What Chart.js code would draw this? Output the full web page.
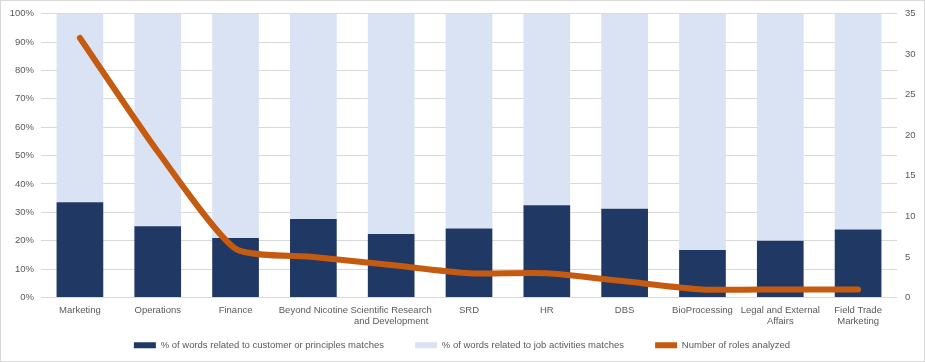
<!DOCTYPE html>
<html>
<head>
<meta charset="utf-8">
<script src="https://cdn.jsdelivr.net/npm/chart.js@4"></script>
<style>
  html, body { margin: 0; padding: 0; background: #fff; }
  #wrap { width: 925px; height: 362px; position: relative; }
</style>
</head>
<body>
<div id="wrap"><canvas id="rolesChart"></canvas></div>
<script>
const categories = [
  'Marketing', 'Operations', 'Finance', 'Beyond Nicotine',
  ['Scientific Research', 'and Development'], 'SRD', 'HR', 'DBS',
  'BioProcessing', ['Legal and External', 'Affairs'], ['Field Trade', 'Marketing']
];
const customerPct = [33.6, 25.1, 21.0, 27.7, 22.4, 24.3, 32.5, 31.3, 16.7, 20.0, 24.0];
const activityPct = [66.4, 74.9, 79.0, 72.3, 77.6, 75.7, 67.5, 68.7, 83.3, 80.0, 76.0];
const rolesAnalyzed = [32, 18, 6, 5, 4, 3, 3, 2, 1, 1, 1];

const pctTicks = [0, 10, 20, 30, 40, 50, 60, 70, 80, 90, 100];
const roleTicks = [0, 5, 10, 15, 20, 25, 30, 35];

const tickFont = { family: 'Liberation Sans', size: 9.5 };
const tickColor = '#595959';

// light grey frame around the whole chart
const frame = {
  id: 'frame',
  afterDraw(chart) {
    const c = chart.ctx;
    c.save();
    c.strokeStyle = '#D9D9D9';
    c.lineWidth = 1;
    c.strokeRect(0.5, 0.5, chart.width - 1, chart.height - 1);
    c.restore();
  }
};

const ctx = document.getElementById('rolesChart').getContext('2d');

new Chart(ctx, {
  type: 'bar',
  data: {
    labels: categories,
    datasets: [
      {
        label: '% of words related to customer or principles matches',
        data: customerPct,
        backgroundColor: '#203864',
        yAxisID: 'y',
        order: 1,
        barPercentage: 0.6,
        categoryPercentage: 1
      },
      {
        label: '% of words related to job activities matches',
        data: activityPct,
        backgroundColor: '#DAE3F3',
        yAxisID: 'y',
        order: 2,
        barPercentage: 0.6,
        categoryPercentage: 1
      },
      {
        type: 'line',
        label: 'Number of roles analyzed',
        data: rolesAnalyzed,
        borderColor: '#C55A11',
        backgroundColor: '#C55A11',
        borderWidth: 6,
        borderCapStyle: 'round',
        borderJoinStyle: 'round',
        tension: 0.2,
        pointRadius: 0,
        yAxisID: 'y2',
        order: 0
      }
    ]
  },
  options: {
    responsive: true,
    maintainAspectRatio: false,
    animation: false,
    layout: { padding: { left: 3, right: 4, top: 7, bottom: 2 } },
    plugins: {
      legend: {
        position: 'bottom',
        labels: {
          boxWidth: 22,
          boxHeight: 6,
          padding: 10,
          color: tickColor,
          font: tickFont,
          sort: (a, b) => a.datasetIndex - b.datasetIndex,
          // wider gap between legend entries without making the legend taller
          generateLabels: chart => Chart.defaults.plugins.legend.labels.generateLabels(chart)
            .map(item => Object.assign(item, {
              lineWidth: 0,
              text: item.datasetIndex < 2 ? item.text + '        ' : item.text
            }))
        }
      },
      tooltip: { enabled: false }
    },
    scales: {
      x: {
        stacked: true,
        grid: { display: false, drawTicks: false },
        border: { display: false },
        afterFit: axis => { axis.height = 33; },
        ticks: { color: tickColor, font: tickFont, padding: 7, maxRotation: 0, minRotation: 0, autoSkip: false }
      },
      y: {
        stacked: true,
        position: 'left',
        min: 0,
        max: 100,
        afterBuildTicks: axis => { axis.ticks = pctTicks.map(v => ({ value: v })); },
        afterFit: axis => { axis.width = 38; },
        grid: { color: '#D9D9D9', drawTicks: false },
        border: { display: false },
        ticks: { color: tickColor, font: tickFont, padding: 7, callback: v => v + '%' }
      },
      y2: {
        position: 'right',
        min: 0,
        max: 35,
        afterBuildTicks: axis => { axis.ticks = roleTicks.map(v => ({ value: v })); },
        afterFit: axis => { axis.width = 24; },
        grid: { display: false, drawTicks: false },
        border: { display: false },
        ticks: { color: tickColor, font: tickFont, padding: 8 }
      }
    }
  },
  plugins: [frame]
});
</script>
</body>
</html>
